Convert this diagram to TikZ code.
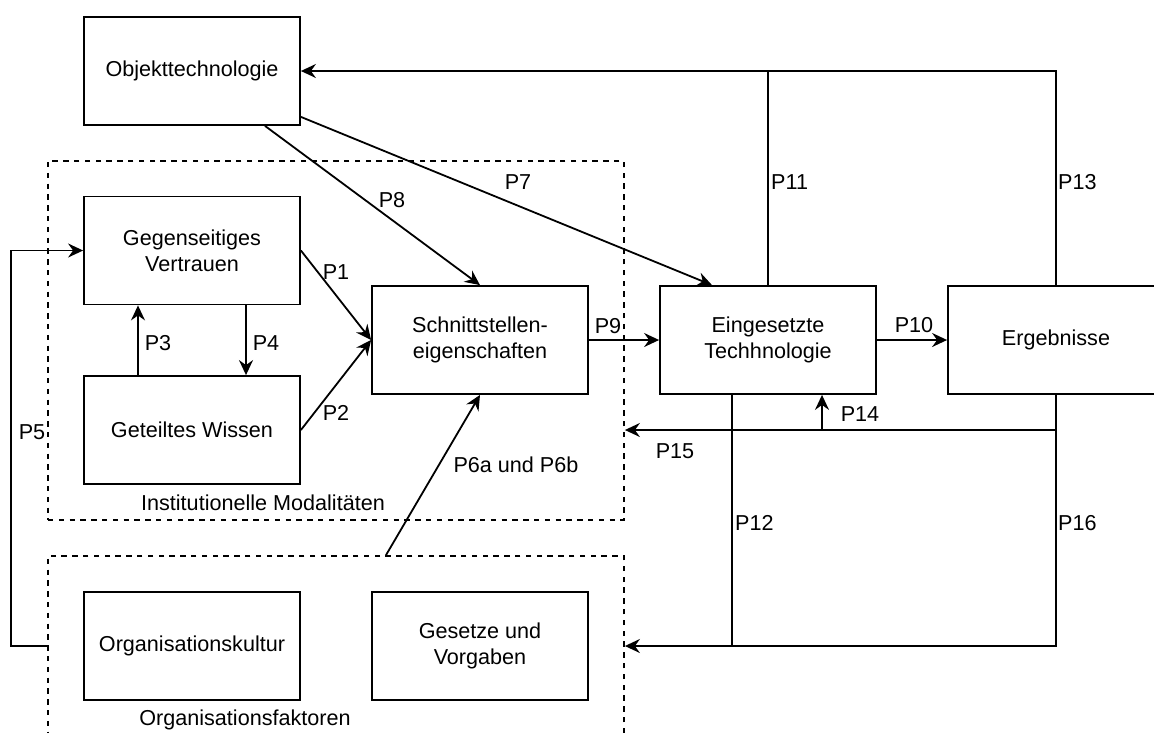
\documentclass[tikz,border=0pt]{standalone}
\usepackage{fontspec}
\setmainfont{Liberation Sans}
\usetikzlibrary{arrows.meta}
\begin{document}
\begin{tikzpicture}[x=1pt,y=-1pt,
  font=\fontsize{21.6pt}{25.9pt}\selectfont,
  box/.style={draw, line width=1.8pt, minimum width=216pt, minimum height=108pt,
              inner sep=0pt, align=center},
  group/.style={draw, dash pattern=on 5.4pt off 5.4pt, line width=1.8pt, inner sep=0pt},
  link/.style={line width=1.8pt},
  arr/.style={link, -{Stealth[length=15pt,width=14pt,inset=5pt]}},
  lbl/.style={inner sep=0pt, anchor=base},
  lblw/.style={inner sep=0pt, anchor=base west},
]
\clip (0,0) rectangle (1154,732);

% dashed groups
\node[group, minimum width=576pt, minimum height=359pt] (inst) at (336,340.5) {};
\node[group, minimum width=576pt, minimum height=260pt] (orgf) at (336,686) {};
\node[lbl] at (263,510) {Institutionelle Modalitäten};
\node[lbl] at (245,725) {Organisationsfaktoren};

% boxes
\node[box] (obj)  at (192,71)    {Objekttechnologie};
\node[box] (gv)   at (192,250.5) {Gegenseitiges\\Vertrauen};
\node[box] (gw)   at (192,430)   {Geteiltes Wissen};
\node[box] (schn) at (480,340)   {Schnittstellen-\\eigenschaften};
\node[box] (eing) at (768,340)   {Eingesetzte\\Techhnologie};
\node[box] (erg)  at (1056,340)  {Ergebnisse};
\node[box] (kult) at (192,646)   {Organisationskultur};
\node[box] (ges)  at (480,646)   {Gesetze und\\Vorgaben};

% junction points of the feedback lines
\coordinate (fb) at (1056,430);
\coordinate (bt) at (1056,646);
\coordinate (p14) at ([xshift=54pt]eing.south);
\coordinate (p12) at ([xshift=-36pt]eing.south);
\coordinate (p7s) at ([yshift=9pt]obj.south east);
\coordinate (p7e) at ([xshift=-56pt]eing.north);
\coordinate (p8s) at ([xshift=73pt]obj.south);
\coordinate (p3) at ([xshift=-54pt]gw.north);
\coordinate (p3e) at ([xshift=-54pt]gv.south);
\coordinate (p4) at ([xshift=54pt]gv.south);
\coordinate (p4e) at ([xshift=54pt]gw.north);
\coordinate (p6) at ([xshift=50pt]orgf.north);

% connectors
\draw[arr] (eing.north) |- (obj.east);
\draw[link] (erg.north) |- (eing.north |- obj.east);
\draw[arr] (p7s) -- (p7e);
\draw[arr] (p8s) -- (schn.north);
\draw[arr] (gv.east) -- (schn.west);
\draw[arr] (gw.east) -- (schn.west);
\draw[arr] (p3) -- (p3e);
\draw[arr] (p4) -- (p4e);
\draw[arr] (orgf.west |- kult.west) -- ++(-36,0) |- (gv.west);
\draw[arr] (p6) -- (schn.south);
\draw[arr] (schn.east) -- (eing.west);
\draw[arr] (eing.east) -- (erg.west);
\draw[arr] (erg.south) -- (fb) -- (inst.east |- fb);
\draw[arr] (p14 |- fb) -- (p14);
\draw[arr] (erg.south) -- (bt) -- (orgf.east |- bt);
\draw[link] (p12) -- (p12 |- bt);

% connector labels
\node[lblw] at (771,189) {P11};
\node[lblw] at (1058,189) {P13};
\node[lbl] at (518,189) {P7};
\node[lbl] at (392,207) {P8};
\node[lbl] at (336,279) {P1};
\node[lbl] at (336,420) {P2};
\node[lbl] at (158,350) {P3};
\node[lbl] at (266,350) {P4};
\node[lbl] at (32,439) {P5};
\node[lbl] at (516,472) {P6a und P6b};
\node[lbl] at (608,333) {P9};
\node[lbl] at (914,332) {P10};
\node[lbl] at (860,421) {P14};
\node[lbl] at (675,458) {P15};
\node[lblw] at (735,530) {P12};
\node[lblw] at (1058,530) {P16};
\end{tikzpicture}
\end{document}
